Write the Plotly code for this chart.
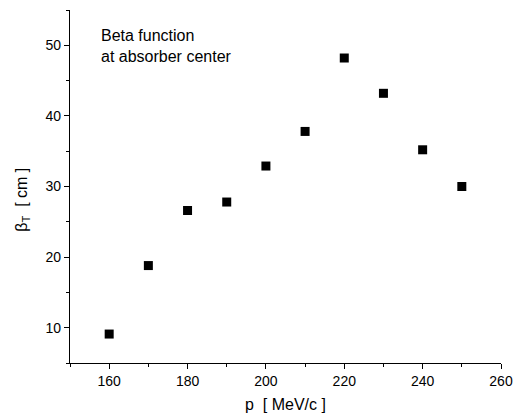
import plotly.graph_objects as go

p_values = [160, 170, 180, 190, 200, 210, 220, 230, 240, 250]
beta_t = [9.1, 18.8, 26.6, 27.8, 32.9, 37.8, 48.2, 43.2, 35.2, 30.0]
x_ticks = [160, 180, 200, 220, 240, 260]
y_ticks = [10, 20, 30, 40, 50]

font = "Liberation Sans, Arial, sans-serif"

fig = go.Figure()
fig.add_trace(go.Scatter(
    x=p_values, y=beta_t, mode="markers",
    marker=dict(symbol="square", size=9, color="black", line=dict(width=0)),
    showlegend=False,
))

fig.update_layout(
    width=523, height=420,
    margin=dict(l=70, r=15, t=10, b=57),
    paper_bgcolor="white", plot_bgcolor="white",
    font=dict(family=font, color="black", size=14),
    xaxis=dict(
        range=[150, 260], tickvals=x_ticks, ticks="outside", ticklen=5, tickwidth=1.3,
        showline=True, linecolor="black", linewidth=1.3, showgrid=False, zeroline=False,
        minor=dict(dtick=10, tick0=150, ticks="outside", ticklen=3, tickwidth=1.3, tickcolor="black"),
        tickfont=dict(size=14), tickcolor="black",
        title=dict(text="p  [ MeV/c ]", font=dict(size=16), standoff=10),
    ),
    yaxis=dict(
        range=[5, 55], tickvals=y_ticks, ticks="outside", ticklen=5, tickwidth=1.3,
        showline=True, linecolor="black", linewidth=1.3, showgrid=False, zeroline=False,
        minor=dict(dtick=5, tick0=5, ticks="outside", ticklen=3, tickwidth=1.3, tickcolor="black"),
        tickfont=dict(size=14), tickcolor="black",
    ),
    annotations=[
        dict(text="Beta function<br>at absorber center", xref="paper", yref="paper",
             x=(99 - 70) / 438, y=(363 - 25) / 353, xanchor="left", yanchor="top",
             showarrow=False, align="left", font=dict(size=16)),
        dict(text="β<sub>T</sub>  [ cm ]", xref="paper", yref="paper",
             x=-(70 - 22) / 438, y=(363 - 200) / 353, xanchor="center", yanchor="middle",
             textangle=-90, showarrow=False, font=dict(size=16)),
    ],
)

fig.write_html("out.html", config={"displayModeBar": False},
               post_script="document.body.style.margin='0';document.body.style.overflow='hidden';")
